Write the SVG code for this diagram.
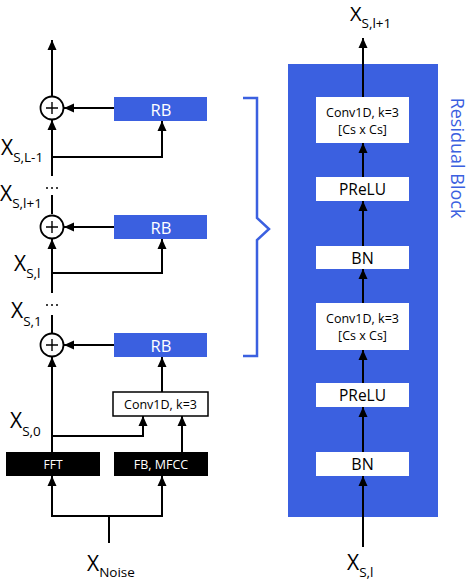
<svg xmlns="http://www.w3.org/2000/svg" width="470" height="583" viewBox="0 0 470 583">
<defs>
<marker id="ah" markerUnits="userSpaceOnUse" markerWidth="10" markerHeight="10" refX="10" refY="5" orient="auto" viewBox="0 0 10 10">
<path d="M0,0.5 L10,5 L0,9.5 z" fill="#000"/>
</marker>
<style>
.c{fill:none;stroke:#000;stroke-width:2}
.a{marker-end:url(#ah)}
.blue{fill:#3b60e0}
.blk{fill:#000}
.wb{fill:#fff}
.t{font-family:"Open Sans","Liberation Sans",sans-serif;text-anchor:middle}
.w{fill:#fff}
.lbl{font-family:"Open Sans","Liberation Sans",sans-serif;fill:#000}
</style>
</defs>
<rect x="0" y="0" width="470" height="583" fill="#fff"/>

<g id="residual-panel">
<rect class="blue" x="288" y="64" width="150" height="453"/>
<text transform="translate(451,158) rotate(90)" class="t" font-size="18" fill="#3b60e0">Residual Block</text>
</g>

<g id="brace">
<path d="M243,98 L257,98 L257,218 L269,229 L257,240 L257,356 L243,356" fill="none" stroke="#3b60e0" stroke-width="2.5"/>
</g>

<g id="connectors">
<path class="c a" d="M52,96 L52,40"/>
<path class="c a" d="M114,108 L64,108"/>
<path class="c a" d="M52,176 L52,120"/>
<path class="c a" d="M52,157 L162,157 L162,121"/>
<path class="c" d="M52,195 L52,214"/>
<path class="c a" d="M114,227 L64,227"/>
<path class="c a" d="M52,293 L52,239"/>
<path class="c a" d="M52,273 L162,273 L162,239"/>
<path class="c" d="M52,315 L52,333"/>
<path class="c a" d="M114,345 L64,345"/>
<path class="c a" d="M52,452 L52,357"/>
<path class="c a" d="M162,392 L162,357"/>
<path class="c a" d="M52,436 L143,436 L143,416"/>
<path class="c a" d="M182,452 L182,416"/>
<path class="c" d="M109,543 L109,516"/>
<path class="c a" d="M109,516 L52,516 L52,476"/>
<path class="c a" d="M109,516 L162,516 L162,476"/>
<path class="c a" d="M363,97 L363,38"/>
<path class="c a" d="M363,177 L363,143"/>
<path class="c a" d="M363,246 L363,201"/>
<path class="c a" d="M363,303 L363,269"/>
<path class="c a" d="M363,383 L363,350"/>
<path class="c a" d="M363,452 L363,407"/>
<path class="c a" d="M363,547 L363,476"/>
</g>

<g id="add1"><circle cx="52" cy="108" r="11.5" fill="#fff" stroke="#000" stroke-width="1.8"/><path d="M46,108 L58,108 M52,102 L52,114" stroke="#000" stroke-width="1.4"/></g>
<g id="add2"><circle cx="52" cy="227" r="11.5" fill="#fff" stroke="#000" stroke-width="1.8"/><path d="M46,227 L58,227 M52,221 L52,233" stroke="#000" stroke-width="1.4"/></g>
<g id="add3"><circle cx="52" cy="345" r="11.5" fill="#fff" stroke="#000" stroke-width="1.8"/><path d="M46,345 L58,345 M52,339 L52,351" stroke="#000" stroke-width="1.4"/></g>

<g id="rb1"><rect class="blue" x="114" y="97" width="93" height="24"/><text class="t w" x="161" y="115.5" font-size="16.5">RB</text></g>
<g id="rb2"><rect class="blue" x="114" y="215" width="93" height="24"/><text class="t w" x="161" y="233.5" font-size="16.5">RB</text></g>
<g id="rb3"><rect class="blue" x="114" y="333" width="93" height="24"/><text class="t w" x="161" y="351.5" font-size="16.5">RB</text></g>

<g id="conv-left"><rect x="113" y="392" width="95" height="24" fill="#fff" stroke="#000" stroke-width="1.5"/><text class="t" x="160.5" y="409" font-size="12.5">Conv1D, k=3</text></g>
<g id="fft"><rect class="blk" x="6" y="452" width="94" height="24"/><text class="t w" x="53" y="469" font-size="12">FFT</text></g>
<g id="fbmfcc"><rect class="blk" x="114" y="452" width="94" height="24"/><text class="t w" x="161" y="469" font-size="12.5">FB, MFCC</text></g>

<g id="dots">
<circle cx="47" cy="188" r="1"/><circle cx="52" cy="188" r="1"/><circle cx="57" cy="188" r="1"/>
<circle cx="47" cy="305" r="1"/><circle cx="52" cy="305" r="1"/><circle cx="57" cy="305" r="1"/>
</g>

<g id="labels-left" class="lbl">
<text x="1" y="155" font-size="21">X<tspan font-size="13.5" dy="7">S,L-1</tspan></text>
<text x="0" y="201" font-size="21">X<tspan font-size="13.5" dy="7">S,l+1</tspan></text>
<text x="14" y="271" font-size="21">X<tspan font-size="13.5" dy="7">S,l</tspan></text>
<text x="11" y="318" font-size="21">X<tspan font-size="13.5" dy="8">S,1</tspan></text>
<text x="10" y="428" font-size="21">X<tspan font-size="13.5" dy="8">S,0</tspan></text>
<text x="87" y="571" font-size="21">X<tspan font-size="13.5" dy="6">Noise</tspan></text>
</g>

<g id="conv-a"><rect class="wb" x="316" y="97" width="93" height="46"/><text class="t" x="362.5" y="117" font-size="12.5">Conv1D, k=3</text><text class="t" x="362.5" y="134" font-size="12.5">[Cs x Cs]</text></g>
<g id="prelu-a"><rect class="wb" x="316" y="177" width="93" height="24"/><text class="t" x="362.5" y="195" font-size="15.5">PReLU</text></g>
<g id="bn-a"><rect class="wb" x="316" y="246" width="93" height="23"/><text class="t" x="362.5" y="263.5" font-size="16">BN</text></g>
<g id="conv-b"><rect class="wb" x="316" y="303" width="93" height="47"/><text class="t" x="362.5" y="323" font-size="12.5">Conv1D, k=3</text><text class="t" x="362.5" y="340" font-size="12.5">[Cs x Cs]</text></g>
<g id="prelu-b"><rect class="wb" x="316" y="383" width="93" height="24"/><text class="t" x="362.5" y="401" font-size="15.5">PReLU</text></g>
<g id="bn-b"><rect class="wb" x="316" y="452" width="93" height="24"/><text class="t" x="362.5" y="470" font-size="16">BN</text></g>

<g id="labels-right" class="lbl">
<text x="350" y="21" font-size="20">X<tspan font-size="13.5" dy="7">S,l+1</tspan></text>
<text x="347" y="570" font-size="21">X<tspan font-size="13.5" dy="7">S,l</tspan></text>
</g>
</svg>
